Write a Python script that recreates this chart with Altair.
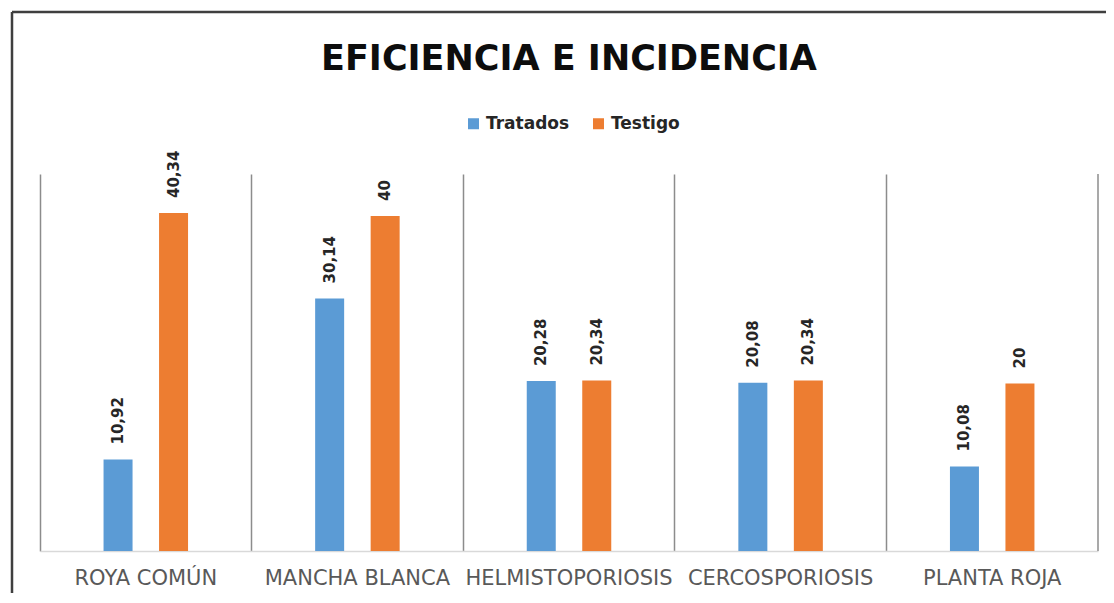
import altair as alt
import pandas as pd

categories = ["ROYA COMÚN", "MANCHA BLANCA", "HELMISTOPORIOSIS", "CERCOSPORIOSIS", "PLANTA ROJA"]
series = ["Tratados", "Testigo"]
tratados = [10.92, 30.14, 20.28, 20.08, 10.08]
testigo = [40.34, 40, 20.34, 20.34, 20]
colors = ["#5B9BD5", "#ED7D31"]

rows = []
for c, a, b in zip(categories, tratados, testigo):
    rows.append({"cat": c, "serie": "Tratados", "valor": a})
    rows.append({"cat": c, "serie": "Testigo", "valor": b})
df = pd.DataFrame(rows)
df["etiqueta"] = df["valor"].map(lambda v: f"{v:g}".replace(".", ","))

W, H = 1058, 377

x = alt.X(
    "cat:N", sort=categories,
    scale=alt.Scale(paddingInner=0, paddingOuter=0),
    axis=alt.Axis(title=None, labelAngle=0, labelFont="DejaVu Sans", labelFontSize=21,
                  labelColor="#595959", labelPadding=16, labelOverlap=False, labelLimit=400,
                  ticks=False, domainColor="#d9d9d9", domainWidth=1.5,
                  grid=True, gridColor="#8c8c8c", gridWidth=1.5, bandPosition=0),
)
xo = alt.XOffset("serie:N", sort=series,
                 scale=alt.Scale(range=[63.55, 148.05], paddingInner=0.4775, paddingOuter=0))
y = alt.Y("valor:Q", scale=alt.Scale(domain=[0, 45]), axis=None)
color = alt.Color(
    "serie:N", sort=series, scale=alt.Scale(domain=series, range=colors),
    legend=alt.Legend(title=None, orient="none", legendX=425, legendY=-59, direction="horizontal",
                      symbolType="square", symbolSize=121, symbolStrokeWidth=0,
                      labelFont="DejaVu Sans", labelFontSize=17, labelFontWeight="bold",
                      labelColor="#262626", labelOffset=4, columnPadding=20),
)

base = alt.Chart(df)
bars = base.mark_bar().encode(x=x, xOffset=xo, y=y, color=color)
labels = base.mark_text(angle=270, align="left", baseline="middle", dx=15,
                        font="DejaVu Sans", fontSize=15, fontWeight="bold", color="#262626").encode(
    x=x, xOffset=xo, y=y, text="etiqueta:N")

one = alt.Chart(pd.DataFrame({"k": [0]}))
right_sep = one.mark_rule(color="#8c8c8c", strokeWidth=1.5).encode(
    x=alt.value(W), y=alt.value(0), y2=alt.value(H))
frame_v = one.mark_rule(color="#3f3f3f", strokeWidth=2.5).encode(
    x=alt.value(-28), y=alt.value(-162), y2=alt.value(430))
frame_h = one.mark_rule(color="#3f3f3f", strokeWidth=2.5).encode(
    x=alt.value(-28), x2=alt.value(1070), y=alt.value(-162))

chart = alt.layer(bars, labels, right_sep, frame_v, frame_h).properties(
    width=W, height=H,
    autosize=alt.AutoSizeParams(type="none"),
    padding={"left": 32, "top": 166, "right": 8, "bottom": 42},
    title=alt.Title("EFICIENCIA E INCIDENCIA", font="DejaVu Sans", fontSize=35, fontWeight="bold",
                    color="#0d0d0d", anchor="middle", baseline="alphabetic", offset=0, dy=94),
).configure_view(stroke=None)

chart.save("out.html", embed_options={"renderer": "svg", "actions": False})
